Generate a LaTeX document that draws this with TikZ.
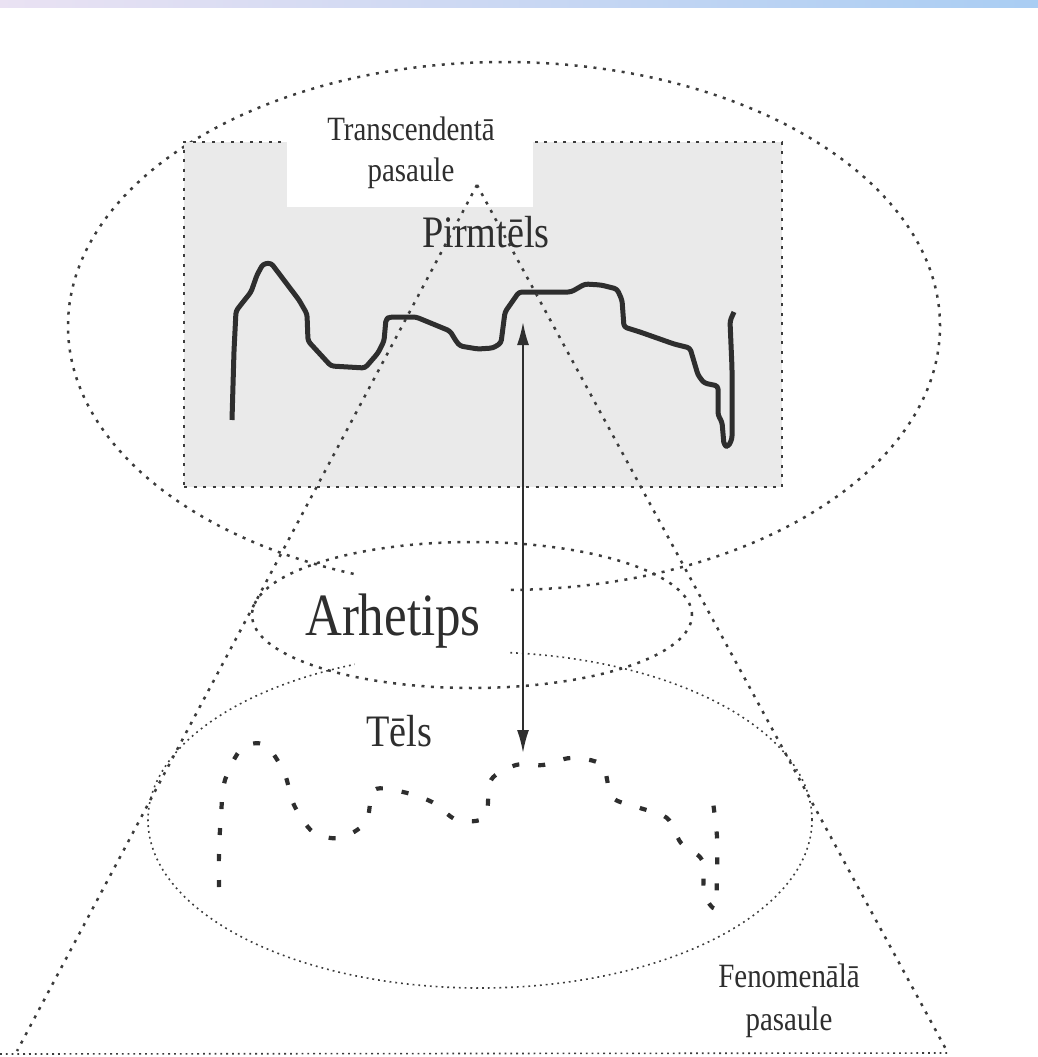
\documentclass[tikz,border=0pt]{standalone}
\usepackage{fontspec}
\setmainfont[FakeStretch=0.85]{Liberation Serif}
\usetikzlibrary{shapes.geometric,arrows.meta}
\definecolor{ink}{HTML}{2E2E2E}
\definecolor{dotgray}{HTML}{3C3C3C}
\definecolor{barleft}{HTML}{EAE2F3}
\definecolor{barright}{HTML}{A9CDF3}
\definecolor{halftone}{HTML}{EAEAEA}

\begin{document}
\begin{tikzpicture}[x=1pt,y=-1pt,>={Latex[length=23pt,width=12pt]},
    dotline/.style={draw=dotgray,line width=2.5pt,dash pattern=on 3pt off 6.5pt},
    fineline/.style={draw=dotgray,line width=1.6pt,dash pattern=on 1.8pt off 4pt},
    world/.style={ellipse,inner sep=0pt},
    lbl/.style={text=ink,align=center,inner sep=0pt,anchor=base}]
    \useasboundingbox (0,0) rectangle (1038,1057);
    \shade[left color=barleft,right color=barright] (0,0) rectangle (1038,8);

    \node[world,dotline,minimum width=872,minimum height=528] (sky) at (504,326) {};
    \node[dotline,fill=halftone,inner sep=0pt,minimum width=598,minimum height=345] (plane) at (483,314.5) {};

    \draw[ink,line width=5pt,rounded corners=3pt,line join=round]
        (232,420) -- (234,351) -- (236,311) -- (243,302) -- (251,292) -- (257,275)
        -- (263,264) -- (271,263) -- (299,300) -- (307,314) -- (308,341) -- (331,366)
        -- (365,368) -- (378,353) -- (384,341) -- (386,319) -- (390,317) -- (416,317)
        -- (450,331) -- (456,341) -- (460,346) -- (478,349) -- (493,348) -- (501,343)
        -- (505,312) -- (519,292) -- (571,292) -- (585,284) -- (601,285) -- (617,289)
        -- (622,300) -- (624,327) -- (640,332) -- (674,344) -- (690,348) -- (698,375)
        -- (704,383) -- (718,386) -- (718,415) -- (722,422) -- (724,445) -- (728,447)
        -- (732,439) -- (732,368) -- (730,321) -- (734,312);

    \fill[white] (287,122) rectangle (533,207);
    \node[lbl,font=\fontsize{34}{41}\selectfont] (trans) at (411,181) {Transcendentā\\pasaule};
    \node[lbl,font=\fontsize{45}{50}\selectfont] (pirm) at (486,247) {Pirmtēls};

    \node[world,fineline,minimum width=664,minimum height=336] (earth) at (480,820) {};
    \fill[white] (355,572) rectangle (507,670);
    \node[world,dotline,minimum width=440,minimum height=146] (arch) at (472,615) {};
    \node[lbl,font=\fontsize{60}{66}\selectfont] (archname) at (393,635) {Arhetips};

    \coordinate (apex) at (477,185);
    \coordinate (lfoot) at (17,1051);
    \coordinate (rfoot) at (948,1053);
    \coordinate (edge) at (0,1054);
    \path[dotline] (apex) edge (lfoot)
        (apex) edge (rfoot);
    \path[fineline] (edge) edge (rfoot);

    \node[lbl,font=\fontsize{45}{50}\selectfont] (image) at (399,746) {Tēls};
    \draw[ink,line width=4.2pt,dash pattern=on 7pt off 19pt] plot[smooth,tension=.5] coordinates {
        (219,887) (219,852) (221,815) (225,780) (242,748) (265,745) (284,772) (294,805)
        (313,832) (340,838) (366,822) (374,790) (403,792) (432,802) (457,820) (485,817)
        (491,780) (516,765) (543,765) (571,758) (602,765) (612,797) (637,807) (667,818)
        (681,843) (702,860) (704,893) (715,908) (717,873) (717,837) (713,802)};

    \node[lbl,font=\fontsize{34}{43}\selectfont] (pheno) at (789,1030) {Fenomenālā\\pasaule};

    \coordinate (up) at (523,322);
    \coordinate (down) at (523,753);
    \draw[ink,line width=2pt,<->] (up) -- (down);
\end{tikzpicture}
\end{document}
